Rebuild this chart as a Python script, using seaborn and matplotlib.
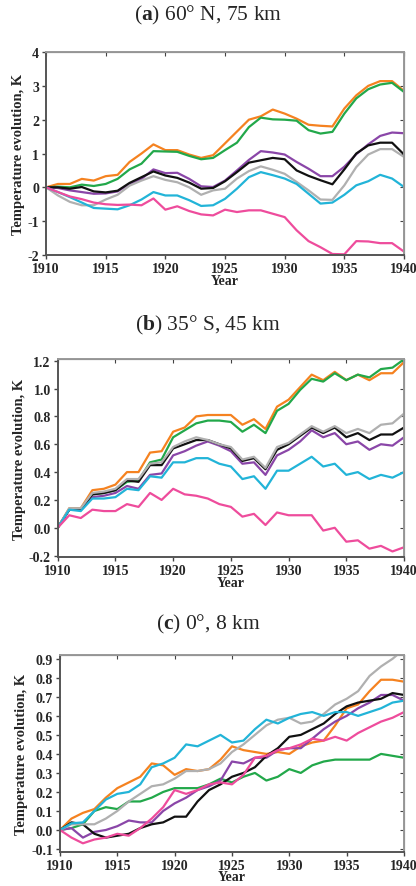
import numpy as np
import pandas as pd
import seaborn as sns
import matplotlib.pyplot as plt
from matplotlib.ticker import FormatStrFormatter

years = list(range(1910, 1941))
series_names = ["orange", "green", "purple", "black", "gray", "cyan", "pink"]
colors = {"orange": "#f58220", "green": "#22a84a", "purple": "#8a46a8", "black": "#111111",
          "gray": "#b0b0b0", "cyan": "#22b4d8", "pink": "#ee4c9c"}

# (a) 60 N, 75 km
a_orange = [0, 0.1, 0.1, 0.25, 0.2, 0.33, 0.37, 0.75, 1.0, 1.27, 1.1, 1.1, 0.97, 0.87, 0.95, 1.3,
            1.65, 2.0, 2.1, 2.3, 2.18, 2.03, 1.85, 1.82, 1.8, 2.33, 2.72, 3.0, 3.14, 3.14, 2.85]
a_green = [0, 0.02, 0, 0.08, 0.04, 0.1, 0.25, 0.53, 0.7, 1.07, 1.06, 1.05, 0.93, 0.83, 0.87, 1.1,
           1.32, 1.78, 2.06, 2.01, 2.0, 1.97, 1.69, 1.59, 1.64, 2.18, 2.63, 2.9, 3.04, 3.09, 2.82]
a_purple = [0, -0.02, -0.09, -0.14, -0.19, -0.18, -0.12, 0.1, 0.25, 0.53, 0.42, 0.43, 0.25, 0.03, 0.01, 0.2,
            0.5, 0.81, 1.07, 1.03, 0.97, 0.75, 0.55, 0.33, 0.33, 0.61, 0.98, 1.27, 1.52, 1.62, 1.6]
a_black = [0, 0, -0.04, 0.01, -0.12, -0.15, -0.1, 0.13, 0.3, 0.47, 0.35, 0.28, 0.14, -0.04, -0.02, 0.18,
           0.45, 0.73, 0.8, 0.87, 0.83, 0.5, 0.34, 0.21, 0.09, 0.53, 1.0, 1.24, 1.32, 1.32, 0.97]
a_gray = [0, -0.24, -0.43, -0.53, -0.53, -0.36, -0.22, 0.05, 0.2, 0.33, 0.22, 0.15, 0.0, -0.22, -0.09, -0.04,
          0.26, 0.48, 0.62, 0.52, 0.4, 0.16, -0.09, -0.36, -0.37, 0.06, 0.6, 0.97, 1.13, 1.13, 0.9]
a_cyan = [0, -0.14, -0.29, -0.45, -0.61, -0.63, -0.65, -0.53, -0.36, -0.14, -0.24, -0.24, -0.38, -0.55, -0.53, -0.34,
          -0.04, 0.3, 0.45, 0.36, 0.26, 0.1, -0.19, -0.48, -0.45, -0.22, 0.06, 0.18, 0.37, 0.26, 0.01]
a_pink = [0, -0.14, -0.27, -0.35, -0.45, -0.5, -0.52, -0.51, -0.53, -0.33, -0.66, -0.56, -0.7, -0.8, -0.83, -0.66,
          -0.73, -0.68, -0.68, -0.78, -0.88, -1.27, -1.59, -1.77, -1.97, -1.98, -1.59, -1.6, -1.65, -1.65, -1.9]

# (b) 35 S, 45 km
b_orange = [0, 0.14, 0.14, 0.27, 0.28, 0.31, 0.4, 0.4, 0.54, 0.55, 0.69, 0.72, 0.8, 0.81, 0.81, 0.81,
            0.74, 0.78, 0.71, 0.87, 0.92, 1.01, 1.1, 1.06, 1.12, 1.06, 1.1, 1.06, 1.11, 1.11, 1.19]
b_green = [0, 0.13, 0.13, 0.24, 0.25, 0.27, 0.33, 0.34, 0.47, 0.49, 0.65, 0.7, 0.75, 0.77, 0.77, 0.76,
           0.69, 0.74, 0.68, 0.84, 0.89, 0.99, 1.07, 1.05, 1.11, 1.06, 1.1, 1.08, 1.14, 1.15, 1.21]
b_purple = [0, 0.13, 0.13, 0.22, 0.23, 0.25, 0.3, 0.28, 0.38, 0.39, 0.52, 0.55, 0.59, 0.62, 0.59, 0.55,
            0.46, 0.47, 0.38, 0.52, 0.56, 0.62, 0.7, 0.65, 0.68, 0.6, 0.62, 0.56, 0.6, 0.59, 0.65]
b_black = [0, 0.13, 0.13, 0.24, 0.25, 0.27, 0.34, 0.33, 0.45, 0.45, 0.57, 0.6, 0.63, 0.63, 0.6, 0.57,
           0.48, 0.5, 0.42, 0.56, 0.6, 0.66, 0.72, 0.68, 0.72, 0.65, 0.68, 0.63, 0.67, 0.67, 0.72]
b_gray = [0, 0.14, 0.14, 0.25, 0.26, 0.28, 0.35, 0.35, 0.46, 0.47, 0.58, 0.62, 0.65, 0.63, 0.6, 0.58,
          0.49, 0.51, 0.43, 0.58, 0.61, 0.67, 0.73, 0.69, 0.73, 0.68, 0.71, 0.68, 0.74, 0.75, 0.82]
b_cyan = [0, 0.13, 0.12, 0.21, 0.21, 0.22, 0.28, 0.27, 0.37, 0.36, 0.47, 0.47, 0.5, 0.5, 0.46, 0.44,
          0.35, 0.37, 0.28, 0.41, 0.41, 0.46, 0.51, 0.44, 0.46, 0.38, 0.4, 0.35, 0.38, 0.36, 0.4]
b_pink = [0, 0.09, 0.07, 0.13, 0.12, 0.12, 0.17, 0.15, 0.25, 0.2, 0.28, 0.24, 0.23, 0.21, 0.17, 0.15,
          0.08, 0.1, 0.02, 0.11, 0.09, 0.09, 0.09, -0.02, 0.0, -0.1, -0.09, -0.15, -0.13, -0.17, -0.14]

# (c) 0, 8 km
c_orange = [0, 0.06, 0.09, 0.11, 0.17, 0.22, 0.25, 0.28, 0.35, 0.34, 0.29, 0.32, 0.31, 0.32, 0.37, 0.44,
            0.42, 0.41, 0.4, 0.41, 0.4, 0.44, 0.46, 0.47, 0.55, 0.64, 0.66, 0.73, 0.79, 0.79, 0.78]
c_green = [0, 0.01, 0.03, 0.1, 0.12, 0.11, 0.15, 0.15, 0.17, 0.2, 0.22, 0.22, 0.22, 0.24, 0.27, 0.25,
           0.28, 0.3, 0.26, 0.28, 0.32, 0.3, 0.34, 0.36, 0.37, 0.37, 0.37, 0.37, 0.4, 0.39, 0.38]
c_purple = [0, 0.01, -0.04, -0.01, 0.0, 0.02, 0.05, 0.04, 0.04, 0.1, 0.14, 0.17, 0.21, 0.23, 0.26, 0.36,
            0.35, 0.38, 0.38, 0.42, 0.43, 0.43, 0.48, 0.53, 0.57, 0.6, 0.64, 0.67, 0.71, 0.71, 0.68]
c_black = [0, 0.04, 0.03, -0.02, -0.04, -0.03, -0.02, 0.01, 0.03, 0.04, 0.07, 0.07, 0.15, 0.21, 0.24, 0.28,
           0.3, 0.33, 0.39, 0.43, 0.49, 0.5, 0.53, 0.56, 0.61, 0.65, 0.67, 0.68, 0.69, 0.72, 0.71]
c_gray = [0, 0.03, 0.03, 0.03, 0.06, 0.1, 0.15, 0.19, 0.23, 0.24, 0.27, 0.31, 0.31, 0.32, 0.35, 0.41,
          0.45, 0.5, 0.55, 0.58, 0.59, 0.56, 0.57, 0.61, 0.66, 0.69, 0.73, 0.81, 0.86, 0.9, 0.95]
c_cyan = [0, 0.035, 0.04, 0.1, 0.16, 0.19, 0.2, 0.24, 0.33, 0.35, 0.38, 0.45, 0.44, 0.47, 0.5, 0.46,
          0.47, 0.53, 0.58, 0.56, 0.59, 0.61, 0.62, 0.6, 0.62, 0.62, 0.6, 0.62, 0.64, 0.67, 0.68]
c_pink = [0, -0.04, -0.07, -0.05, -0.04, -0.02, -0.03, 0.01, 0.06, 0.12, 0.21, 0.19, 0.21, 0.24, 0.25, 0.24,
          0.29, 0.38, 0.39, 0.42, 0.43, 0.45, 0.48, 0.47, 0.49, 0.47, 0.51, 0.54, 0.57, 0.59, 0.62]

panels = [
    ("a", ") 60° N, 75 km", [a_orange, a_green, a_purple, a_black, a_gray, a_cyan, a_pink],
     (-2, 4), [-2, -1, 0, 1, 2, 3, 4], "%d"),
    ("b", ") 35° S, 45 km", [b_orange, b_green, b_purple, b_black, b_gray, b_cyan, b_pink],
     (-0.21, 1.212), [-0.2, 0.0, 0.2, 0.4, 0.6, 0.8, 1.0, 1.2], "%.1f"),
    ("c", ") 0°, 8 km", [c_orange, c_green, c_purple, c_black, c_gray, c_cyan, c_pink],
     (-0.114, 0.92), [-0.1, 0.0, 0.1, 0.2, 0.3, 0.4, 0.5, 0.6, 0.7, 0.8, 0.9], "%.1f"),
]
# axes boxes in figure fractions
boxes = [[0.1106, 0.7114, 0.8606, 0.2288],
         [0.1387, 0.3709, 0.8325, 0.2232],
         [0.1442, 0.0387, 0.8269, 0.2217]]
title_y = [0.983, 0.6336, 0.2954]

sns.set_style("ticks")
plt.rcParams["font.family"] = ["Liberation Serif", "DejaVu Serif"]
plt.rcParams["axes.unicode_minus"] = False
plt.rcParams["mathtext.fontset"] = "custom"
plt.rcParams["mathtext.rm"] = "Liberation Serif"
plt.rcParams["mathtext.bf"] = "Liberation Serif:bold"

fig = plt.figure(figsize=(4.16, 8.87), dpi=100)

for (letter, rest, vals, ylim, yticks, fmt), box, ty in zip(panels, boxes, title_y):
    ax = fig.add_axes(box)
    df = pd.DataFrame({"Year": years * len(series_names),
                       "value": sum(vals, []),
                       "series": np.repeat(series_names, len(years))})
    sns.lineplot(data=df, x="Year", y="value", hue="series", palette=colors,
                 linewidth=1.6, legend=False, ax=ax)
    ax.set_xlim(1910, 1940)
    ax.set_ylim(*ylim)
    ax.set_xticks(range(1910, 1941, 5))
    ax.set_yticks(yticks)
    ax.yaxis.set_major_formatter(FormatStrFormatter(fmt))
    ax.tick_params(direction="out", length=3, width=1, labelsize=10, pad=2, color="#444444")
    for t in ax.get_xticklabels() + ax.get_yticklabels():
        t.set_fontweight("bold")
    ax.set_xlabel("Year", fontsize=10, fontweight="bold", labelpad=-1)
    ax.set_ylabel("Temperature evolution, K", fontsize=10.5, fontweight="bold", labelpad=2)
    for side in ["left", "bottom"]:
        ax.spines[side].set_color("#555555")
        ax.spines[side].set_linewidth(1.4)
    for side in ["top", "right"]:
        ax.spines[side].set_color("#999999")
        ax.spines[side].set_linewidth(1.4)
    # inward ticks on top and right
    top = ax.secondary_xaxis("top")
    top.set_xticks(range(1910, 1941, 5))
    top.tick_params(direction="in", length=3, labeltop=False, color="#444444")
    right = ax.secondary_yaxis("right")
    right.set_yticks(yticks)
    right.tick_params(direction="in", length=3, labelright=False, color="#444444")
    fig.text(0.5, ty, "(" + r"$\mathbf{" + letter + "}$" + rest, ha="center", va="center", fontsize=15.5)

fig.savefig("out.png", dpi=100)
